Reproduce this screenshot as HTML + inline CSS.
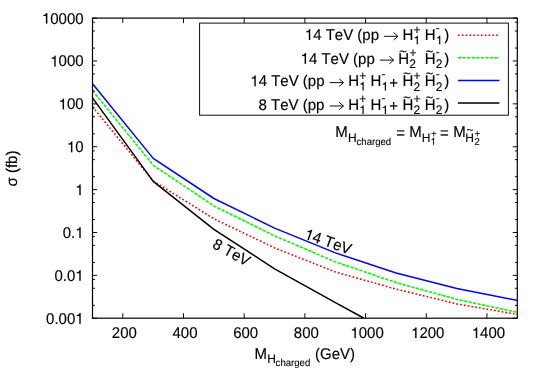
<!DOCTYPE html>
<html><head><meta charset="utf-8"><title>plot</title>
<style>
html,body{margin:0;padding:0;background:#fff;}
body{width:545px;height:382px;overflow:hidden;}
text{white-space:pre;}
svg{display:block;will-change:transform;font-family:"Liberation Sans",sans-serif;}
text{font-kerning:none;fill:#000;stroke:#000;stroke-width:0.01em;text-rendering:geometricPrecision;}
</style></head><body>
<svg width="545" height="382" viewBox="0 0 545 382">
<rect x="0" y="0" width="545" height="382" fill="#fff"/>
<polyline points="92.5,106.8 153.2,181.0 213.9,218.8 274.6,247.9 335.4,272.0 396.1,289.1 456.8,303.9 517.5,314.5" fill="none" stroke="#ff0000" stroke-width="1.6" stroke-linejoin="round" stroke-dasharray="1.7 2.13"/>
<polyline points="92.5,90.6 153.2,165.3 213.9,206.0 274.6,235.9 335.4,261.9 396.1,282.6 456.8,299.4 517.5,312.4" fill="none" stroke="#00ff00" stroke-width="1.6" stroke-linejoin="round" stroke-dasharray="3.2 1.36"/>
<polyline points="92.5,83.7 153.2,158.4 213.9,198.5 274.6,228.1 335.4,252.9 396.1,273.0 456.8,288.4 517.5,300.4" fill="none" stroke="#0000ff" stroke-width="1.5" stroke-linejoin="round"/>
<polyline points="92.5,97.9 153.2,181.4 213.9,229.3 274.6,268.8 335.4,302.7 363.6,318.0" fill="none" stroke="#000000" stroke-width="1.5" stroke-linejoin="round"/>
<rect x="199.6" y="23.1" width="308.8" height="92.1" fill="#fff" stroke="#000" stroke-width="0.95"/>
<line x1="457.9" x2="499.4" y1="35.2" y2="35.2" stroke="#ff0000" stroke-width="1.6" stroke-dasharray="1.7 2.13"/>
<line x1="457.9" x2="499.4" y1="57.8" y2="57.8" stroke="#00ff00" stroke-width="1.6" stroke-dasharray="3.2 1.36"/>
<line x1="457.9" x2="499.4" y1="80.5" y2="80.5" stroke="#0000ff" stroke-width="1.5"/>
<line x1="457.9" x2="499.4" y1="103.0" y2="103.0" stroke="#000" stroke-width="1.5"/>
<rect x="92.5" y="18.1" width="424.8" height="300.1" fill="none" stroke="#000" stroke-width="1.2"/>
<path d="M92.5 18.10h4.6 M517.3 18.10h-4.6 M92.5 48.07h2.4 M517.3 48.07h-2.4 M92.5 31.01h2.4 M517.3 31.01h-2.4 M92.5 22.26h2.4 M517.3 22.26h-2.4 M92.5 60.98h4.6 M517.3 60.98h-4.6 M92.5 90.95h2.4 M517.3 90.95h-2.4 M92.5 73.89h2.4 M517.3 73.89h-2.4 M92.5 65.13h2.4 M517.3 65.13h-2.4 M92.5 103.86h4.6 M517.3 103.86h-4.6 M92.5 133.83h2.4 M517.3 133.83h-2.4 M92.5 116.76h2.4 M517.3 116.76h-2.4 M92.5 108.01h2.4 M517.3 108.01h-2.4 M92.5 146.74h4.6 M517.3 146.74h-4.6 M92.5 176.71h2.4 M517.3 176.71h-2.4 M92.5 159.64h2.4 M517.3 159.64h-2.4 M92.5 150.89h2.4 M517.3 150.89h-2.4 M92.5 189.61h4.6 M517.3 189.61h-4.6 M92.5 219.59h2.4 M517.3 219.59h-2.4 M92.5 202.52h2.4 M517.3 202.52h-2.4 M92.5 193.77h2.4 M517.3 193.77h-2.4 M92.5 232.49h4.6 M517.3 232.49h-4.6 M92.5 262.46h2.4 M517.3 262.46h-2.4 M92.5 245.40h2.4 M517.3 245.40h-2.4 M92.5 236.65h2.4 M517.3 236.65h-2.4 M92.5 275.37h4.6 M517.3 275.37h-4.6 M92.5 305.34h2.4 M517.3 305.34h-2.4 M92.5 288.28h2.4 M517.3 288.28h-2.4 M92.5 279.53h2.4 M517.3 279.53h-2.4 M92.5 318.25h4.6 M517.3 318.25h-4.6 M122.80 318.2v-5.0 M122.80 18.1v5.0 M183.49 318.2v-5.0 M183.49 18.1v5.0 M244.18 318.2v-5.0 M244.18 18.1v5.0 M304.88 318.2v-5.0 M304.88 18.1v5.0 M365.57 318.2v-5.0 M365.57 18.1v5.0 M426.26 318.2v-5.0 M426.26 18.1v5.0 M486.95 318.2v-5.0 M486.95 18.1v5.0" stroke="#000" stroke-width="0.95" fill="none"/>
<g transform="translate(83.60,23.60) scale(1.0,1.035)" font-size="15.0"><path transform="translate(-41.71,0) scale(0.0150,-0.0150)" d="M359 0H273V494H101V556C190 560 262 597 296 688H359Z" stroke="#000" stroke-width="10.0"/><text x="-33.37" y="0">0000</text></g>
<g transform="translate(83.60,66.48) scale(1.0,1.035)" font-size="15.0"><path transform="translate(-33.37,0) scale(0.0150,-0.0150)" d="M359 0H273V494H101V556C190 560 262 597 296 688H359Z" stroke="#000" stroke-width="10.0"/><text x="-25.03" y="0">000</text></g>
<g transform="translate(83.60,109.36) scale(1.0,1.035)" font-size="15.0"><path transform="translate(-25.03,0) scale(0.0150,-0.0150)" d="M359 0H273V494H101V556C190 560 262 597 296 688H359Z" stroke="#000" stroke-width="10.0"/><text x="-16.68" y="0">00</text></g>
<g transform="translate(83.60,152.24) scale(1.0,1.035)" font-size="15.0"><path transform="translate(-16.68,0) scale(0.0150,-0.0150)" d="M359 0H273V494H101V556C190 560 262 597 296 688H359Z" stroke="#000" stroke-width="10.0"/><text x="-8.34" y="0">0</text></g>
<g transform="translate(83.60,195.11) scale(1.0,1.035)" font-size="15.0"><path transform="translate(-8.34,0) scale(0.0150,-0.0150)" d="M359 0H273V494H101V556C190 560 262 597 296 688H359Z" stroke="#000" stroke-width="10.0"/></g>
<g transform="translate(83.60,237.99) scale(1.0,1.035)" font-size="15.0"><text x="-20.85" y="0">0.</text><path transform="translate(-8.34,0) scale(0.0150,-0.0150)" d="M359 0H273V494H101V556C190 560 262 597 296 688H359Z" stroke="#000" stroke-width="10.0"/></g>
<g transform="translate(83.60,280.87) scale(1.0,1.035)" font-size="15.0"><text x="-29.19" y="0">0.0</text><path transform="translate(-8.34,0) scale(0.0150,-0.0150)" d="M359 0H273V494H101V556C190 560 262 597 296 688H359Z" stroke="#000" stroke-width="10.0"/></g>
<g transform="translate(83.60,323.75) scale(1.0,1.035)" font-size="15.0"><text x="-37.54" y="0">0.00</text><path transform="translate(-8.34,0) scale(0.0150,-0.0150)" d="M359 0H273V494H101V556C190 560 262 597 296 688H359Z" stroke="#000" stroke-width="10.0"/></g>
<text transform="translate(124.30,338.10) scale(1.0,1.035)" font-size="15.0" text-anchor="middle">200</text>
<text transform="translate(184.99,338.10) scale(1.0,1.035)" font-size="15.0" text-anchor="middle">400</text>
<text transform="translate(245.68,338.10) scale(1.0,1.035)" font-size="15.0" text-anchor="middle">600</text>
<text transform="translate(306.38,338.10) scale(1.0,1.035)" font-size="15.0" text-anchor="middle">800</text>
<g transform="translate(367.07,338.10) scale(1.0,1.035)" font-size="15.0"><path transform="translate(-16.68,0) scale(0.0150,-0.0150)" d="M359 0H273V494H101V556C190 560 262 597 296 688H359Z" stroke="#000" stroke-width="10.0"/><text x="-8.34" y="0">000</text></g>
<g transform="translate(427.76,338.10) scale(1.0,1.035)" font-size="15.0"><path transform="translate(-16.68,0) scale(0.0150,-0.0150)" d="M359 0H273V494H101V556C190 560 262 597 296 688H359Z" stroke="#000" stroke-width="10.0"/><text x="-8.34" y="0">200</text></g>
<g transform="translate(488.45,338.10) scale(1.0,1.035)" font-size="15.0"><path transform="translate(-16.68,0) scale(0.0150,-0.0150)" d="M359 0H273V494H101V556C190 560 262 597 296 688H359Z" stroke="#000" stroke-width="10.0"/><text x="-8.34" y="0">400</text></g>
<text transform="translate(16.90,168.50) rotate(-90) scale(1.0,1.035)" font-size="15.0" text-anchor="middle">σ (fb)</text>
<text transform="translate(254.60,358.50) scale(1.0,1.035)" font-size="15.0" text-anchor="start">M</text>
<text transform="translate(267.30,363.10) scale(1.0,1.035)" font-size="12.0" text-anchor="start">H</text>
<text transform="translate(275.60,366.40) scale(1.0,1.035)" font-size="9.6" text-anchor="start">charged</text>
<text transform="translate(315.00,358.50) scale(1.0,1.035)" font-size="15.0" text-anchor="start">(GeV)</text>
<text transform="translate(335.20,137.00) scale(1.0,1.035)" font-size="15.0" text-anchor="start">M</text>
<text transform="translate(347.90,141.50) scale(1.0,1.035)" font-size="12.0" text-anchor="start">H</text>
<text transform="translate(356.50,144.90) scale(1.0,1.035)" font-size="9.6" text-anchor="start">charged</text>
<text transform="translate(396.20,137.70) scale(1.0,1.035)" font-size="15.0" text-anchor="start">=</text>
<text transform="translate(409.20,137.00) scale(1.0,1.035)" font-size="15.0" text-anchor="start">M</text>
<text transform="translate(421.80,141.50) scale(1.0,1.035)" font-size="12.0" text-anchor="start">H</text>
<text transform="translate(431.00,136.90) scale(1.0,1.035)" font-size="9.6" text-anchor="start">+</text>
<g transform="translate(430.60,144.70) scale(1.0,1.035)" font-size="9.6"><path transform="translate(0.00,0) scale(0.0096,-0.0096)" d="M359 0H273V494H101V556C190 560 262 597 296 688H359Z" stroke="#000" stroke-width="15.6"/></g>
<text transform="translate(439.90,137.70) scale(1.0,1.035)" font-size="15.0" text-anchor="start">=</text>
<text transform="translate(453.20,137.00) scale(1.0,1.035)" font-size="15.0" text-anchor="start">M</text>
<text transform="translate(465.20,141.50) scale(1.0,1.035)" font-size="12.0" text-anchor="start">H</text>
<text transform="translate(466.60,134.30) scale(1.0,1.035)" font-size="12.0" text-anchor="start">~</text>
<text transform="translate(474.60,136.90) scale(1.0,1.035)" font-size="9.6" text-anchor="start">+</text>
<text transform="translate(474.40,144.70) scale(1.0,1.035)" font-size="9.6" text-anchor="start">2</text>
<g transform="translate(303.60,238.40) rotate(19.5) scale(1.0,1.035)" font-size="15.0"><path transform="translate(0.00,0) scale(0.0150,-0.0150)" d="M359 0H273V494H101V556C190 560 262 597 296 688H359Z" stroke="#000" stroke-width="10.0"/><text x="8.34" y="0">4 TeV</text></g>
<text transform="translate(211.50,247.20) rotate(29) scale(1.0,1.035)" font-size="15.0" text-anchor="start">8 TeV</text>
<g transform="translate(304.80,39.90) scale(1.0,1.035)" font-size="15.0"><path transform="translate(0.00,0) scale(0.0150,-0.0150)" d="M359 0H273V494H101V556C190 560 262 597 296 688H359Z" stroke="#000" stroke-width="10.0"/><text x="8.34" y="0">4 TeV (pp</text></g>
<path d="M384.10 36.30H397.70 M393.60 32.60L397.90 36.30L393.60 40.00" fill="none" stroke="#000" stroke-width="0.95" stroke-linejoin="miter"/>
<text transform="translate(402.40,39.90) scale(1.0,1.035)" font-size="15.0" text-anchor="start">H</text>
<text transform="translate(413.50,33.60) scale(1.0,1.035)" font-size="12.0" text-anchor="start">+</text>
<g transform="translate(413.50,44.30) scale(1.0,1.035)" font-size="12.0"><path transform="translate(0.00,0) scale(0.0120,-0.0120)" d="M359 0H273V494H101V556C190 560 262 597 296 688H359Z" stroke="#000" stroke-width="12.5"/></g>
<text transform="translate(424.80,39.90) scale(1.0,1.035)" font-size="15.0" text-anchor="start">H</text>
<text transform="translate(435.70,32.05) scale(1.0,1.035)" font-size="12.0" text-anchor="start">-</text>
<g transform="translate(435.90,44.30) scale(1.0,1.035)" font-size="12.0"><path transform="translate(0.00,0) scale(0.0120,-0.0120)" d="M359 0H273V494H101V556C190 560 262 597 296 688H359Z" stroke="#000" stroke-width="12.5"/></g>
<text transform="translate(444.20,39.90) scale(1.0,1.035)" font-size="15.0" text-anchor="start">)</text>
<g transform="translate(300.60,63.70) scale(1.0,1.035)" font-size="15.0"><path transform="translate(0.00,0) scale(0.0150,-0.0150)" d="M359 0H273V494H101V556C190 560 262 597 296 688H359Z" stroke="#000" stroke-width="10.0"/><text x="8.34" y="0">4 TeV (pp</text></g>
<path d="M379.90 60.10H393.50 M389.40 56.40L393.70 60.10L389.40 63.80" fill="none" stroke="#000" stroke-width="0.95" stroke-linejoin="miter"/>
<text transform="translate(398.30,63.70) scale(1.0,1.035)" font-size="15.0" text-anchor="start">H</text>
<text transform="translate(398.90,55.60) scale(1.0,1.035)" font-size="13.5" text-anchor="start">~</text>
<text transform="translate(409.40,57.40) scale(1.0,1.035)" font-size="12.0" text-anchor="start">+</text>
<text transform="translate(409.20,68.30) scale(1.0,1.035)" font-size="12.0" text-anchor="start">2</text>
<text transform="translate(424.80,63.70) scale(1.0,1.035)" font-size="15.0" text-anchor="start">H</text>
<text transform="translate(425.40,55.60) scale(1.0,1.035)" font-size="13.5" text-anchor="start">~</text>
<text transform="translate(435.70,55.85) scale(1.0,1.035)" font-size="12.0" text-anchor="start">-</text>
<text transform="translate(435.70,68.30) scale(1.0,1.035)" font-size="12.0" text-anchor="start">2</text>
<text transform="translate(444.20,63.70) scale(1.0,1.035)" font-size="15.0" text-anchor="start">)</text>
<g transform="translate(250.30,86.20) scale(1.0,1.035)" font-size="15.0"><path transform="translate(0.00,0) scale(0.0150,-0.0150)" d="M359 0H273V494H101V556C190 560 262 597 296 688H359Z" stroke="#000" stroke-width="10.0"/><text x="8.34" y="0">4 TeV (pp</text></g>
<path d="M329.70 82.60H343.30 M339.20 78.90L343.50 82.60L339.20 86.30" fill="none" stroke="#000" stroke-width="0.95" stroke-linejoin="miter"/>
<text transform="translate(348.20,86.20) scale(1.0,1.035)" font-size="15.0" text-anchor="start">H</text>
<text transform="translate(359.30,79.90) scale(1.0,1.035)" font-size="12.0" text-anchor="start">+</text>
<g transform="translate(359.30,90.60) scale(1.0,1.035)" font-size="12.0"><path transform="translate(0.00,0) scale(0.0120,-0.0120)" d="M359 0H273V494H101V556C190 560 262 597 296 688H359Z" stroke="#000" stroke-width="12.5"/></g>
<text transform="translate(370.50,86.20) scale(1.0,1.035)" font-size="15.0" text-anchor="start">H</text>
<text transform="translate(381.40,78.35) scale(1.0,1.035)" font-size="12.0" text-anchor="start">-</text>
<g transform="translate(381.60,90.60) scale(1.0,1.035)" font-size="12.0"><path transform="translate(0.00,0) scale(0.0120,-0.0120)" d="M359 0H273V494H101V556C190 560 262 597 296 688H359Z" stroke="#000" stroke-width="12.5"/></g>
<text transform="translate(389.20,87.70) scale(1.0,1.035)" font-size="15.0" text-anchor="start">+</text>
<text transform="translate(402.50,86.20) scale(1.0,1.035)" font-size="15.0" text-anchor="start">H</text>
<text transform="translate(403.10,78.10) scale(1.0,1.035)" font-size="13.5" text-anchor="start">~</text>
<text transform="translate(413.60,79.90) scale(1.0,1.035)" font-size="12.0" text-anchor="start">+</text>
<text transform="translate(413.40,90.80) scale(1.0,1.035)" font-size="12.0" text-anchor="start">2</text>
<text transform="translate(424.80,86.20) scale(1.0,1.035)" font-size="15.0" text-anchor="start">H</text>
<text transform="translate(425.40,78.10) scale(1.0,1.035)" font-size="13.5" text-anchor="start">~</text>
<text transform="translate(435.70,78.35) scale(1.0,1.035)" font-size="12.0" text-anchor="start">-</text>
<text transform="translate(435.70,90.80) scale(1.0,1.035)" font-size="12.0" text-anchor="start">2</text>
<text transform="translate(444.30,86.20) scale(1.0,1.035)" font-size="15.0" text-anchor="start">)</text>
<text transform="translate(258.60,109.60) scale(1.0,1.035)" font-size="15.0" text-anchor="start">8 TeV (pp</text>
<path d="M329.70 106.00H343.30 M339.20 102.30L343.50 106.00L339.20 109.70" fill="none" stroke="#000" stroke-width="0.95" stroke-linejoin="miter"/>
<text transform="translate(348.20,109.60) scale(1.0,1.035)" font-size="15.0" text-anchor="start">H</text>
<text transform="translate(359.30,103.30) scale(1.0,1.035)" font-size="12.0" text-anchor="start">+</text>
<g transform="translate(359.30,114.00) scale(1.0,1.035)" font-size="12.0"><path transform="translate(0.00,0) scale(0.0120,-0.0120)" d="M359 0H273V494H101V556C190 560 262 597 296 688H359Z" stroke="#000" stroke-width="12.5"/></g>
<text transform="translate(370.50,109.60) scale(1.0,1.035)" font-size="15.0" text-anchor="start">H</text>
<text transform="translate(381.40,101.75) scale(1.0,1.035)" font-size="12.0" text-anchor="start">-</text>
<g transform="translate(381.60,114.00) scale(1.0,1.035)" font-size="12.0"><path transform="translate(0.00,0) scale(0.0120,-0.0120)" d="M359 0H273V494H101V556C190 560 262 597 296 688H359Z" stroke="#000" stroke-width="12.5"/></g>
<text transform="translate(389.20,111.10) scale(1.0,1.035)" font-size="15.0" text-anchor="start">+</text>
<text transform="translate(402.50,109.60) scale(1.0,1.035)" font-size="15.0" text-anchor="start">H</text>
<text transform="translate(403.10,101.50) scale(1.0,1.035)" font-size="13.5" text-anchor="start">~</text>
<text transform="translate(413.60,103.30) scale(1.0,1.035)" font-size="12.0" text-anchor="start">+</text>
<text transform="translate(413.40,114.20) scale(1.0,1.035)" font-size="12.0" text-anchor="start">2</text>
<text transform="translate(424.80,109.60) scale(1.0,1.035)" font-size="15.0" text-anchor="start">H</text>
<text transform="translate(425.40,101.50) scale(1.0,1.035)" font-size="13.5" text-anchor="start">~</text>
<text transform="translate(435.70,101.75) scale(1.0,1.035)" font-size="12.0" text-anchor="start">-</text>
<text transform="translate(435.70,114.20) scale(1.0,1.035)" font-size="12.0" text-anchor="start">2</text>
<text transform="translate(444.30,109.60) scale(1.0,1.035)" font-size="15.0" text-anchor="start">)</text>
</svg>
</body></html>
